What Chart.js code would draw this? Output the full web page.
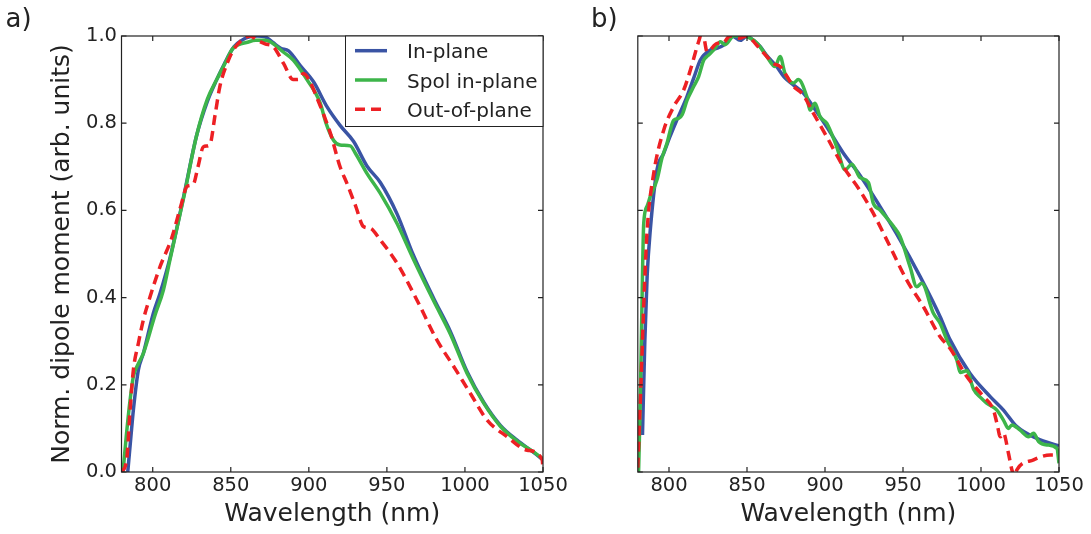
<!DOCTYPE html>
<html>
<head>
<meta charset="utf-8">
<script src="https://cdn.jsdelivr.net/npm/chart.js@4"></script>
<style>
  body { margin: 0; background: #fff; }
  #wrap { position: relative; width: 1091px; height: 534px; overflow: hidden; }
  canvas { position: absolute; top: 0; }
</style>
</head>
<body>
<div id="wrap">
  <canvas id="chartA" width="600" height="534" style="left:0"></canvas>
  <canvas id="chartB" width="531" height="534" style="left:560px"></canvas>
</div>
<script>
const FONT = "'DejaVu Sans', sans-serif";
const INK = '#222222';

const xTicks = [800, 850, 900, 950, 1000, 1050];
const yTicks = [0, 0.2, 0.4, 0.6, 0.8, 1.0];
const seriesNames = ['In-plane', 'Spol in-plane', 'Out-of-plane'];
const seriesColors = ['#3a54a4', '#3db54a', '#ed2024'];

// panel a)
const aInPlaneNm = [784, 786, 787.6, 790.8, 794, 800.4, 804.7, 811, 820, 828, 835, 841, 846, 852, 857, 862, 867, 872, 877, 882, 887, 894.5, 903, 911.6, 920, 928.7, 937.2, 945.8, 956.5, 967, 980, 990.7, 1001.4, 1012, 1022.7, 1033.4, 1044, 1050];
const aInPlane = [0, 0.08, 0.142, 0.234, 0.272, 0.364, 0.41, 0.49, 0.635, 0.77, 0.85, 0.9, 0.937, 0.975, 0.99, 0.998, 1.0, 0.998, 0.985, 0.972, 0.966, 0.932, 0.895, 0.838, 0.795, 0.758, 0.702, 0.664, 0.592, 0.497, 0.398, 0.322, 0.23, 0.16, 0.107, 0.073, 0.045, 0.028];

const aSpolNm = [781, 783, 785.5, 787.6, 791, 794, 801.5, 806.8, 811, 820, 828, 835, 841, 846, 851, 855, 860, 866, 872, 877, 883, 890, 898.8, 907.3, 911, 915.8, 920, 926.5, 930, 937.2, 945.8, 956.5, 967, 980, 990.7, 1001.4, 1012, 1022.7, 1033.4, 1044, 1050];
const aSpol = [0, 0.08, 0.165, 0.219, 0.25, 0.272, 0.36, 0.417, 0.486, 0.632, 0.77, 0.855, 0.9, 0.935, 0.97, 0.98, 0.985, 0.99, 0.99, 0.983, 0.965, 0.945, 0.9, 0.846, 0.8, 0.761, 0.75, 0.748, 0.73, 0.685, 0.639, 0.57, 0.488, 0.392, 0.316, 0.226, 0.158, 0.105, 0.071, 0.046, 0.03];

const aOutNm = [780, 783.3, 785.5, 787.6, 790.8, 794, 798.3, 804.7, 812, 818, 822, 826, 829, 832.5, 836.5, 840, 843, 848, 851.7, 857, 862.4, 867, 872, 877.4, 883.8, 890, 893, 896.6, 900, 905, 910, 914, 920, 924.4, 930, 935, 939.4, 945.8, 956.5, 969.3, 982, 992.8, 1003.5, 1014.2, 1027, 1039.9, 1049.5, 1050];
const aOut = [0, 0.028, 0.142, 0.234, 0.295, 0.349, 0.402, 0.471, 0.535, 0.61, 0.655, 0.66, 0.7, 0.746, 0.75, 0.82, 0.884, 0.94, 0.968, 0.99, 1.0, 0.99, 0.982, 0.975, 0.937, 0.9, 0.9, 0.914, 0.9, 0.86, 0.815, 0.775, 0.7, 0.662, 0.61, 0.563, 0.559, 0.532, 0.479, 0.394, 0.303, 0.242, 0.18, 0.119, 0.081, 0.05, 0.028, 0.005];

// panel b)
const bInPlaneNm = [783, 784.5, 786, 788, 792.3, 796.6, 800.6, 805, 811.4, 816, 820.1, 826.5, 831, 835, 840.4, 845.7, 850, 854, 858.4, 862.7, 869, 874, 879.7, 886.1, 893, 901.1, 911.8, 922.5, 935.4, 948.2, 961, 973.8, 980.2, 993, 1005.9, 1014.4, 1023, 1035.8, 1050];
const bInPlane = [0.085, 0.3, 0.45, 0.555, 0.693, 0.731, 0.769, 0.807, 0.86, 0.905, 0.945, 0.968, 0.972, 0.979, 1.0, 0.99, 1.0, 0.99, 0.976, 0.955, 0.93, 0.905, 0.888, 0.869, 0.835, 0.792, 0.731, 0.68, 0.608, 0.532, 0.448, 0.356, 0.303, 0.226, 0.173, 0.142, 0.104, 0.077, 0.06];

const bSpolNm = [780.5, 781.5, 782.5, 783.8, 786, 788, 792.3, 795.5, 798.7, 803, 806.2, 808.5, 811.6, 815.8, 819, 822.3, 825, 828.7, 833, 836, 841.5, 847.5, 852, 856, 858.4, 862.7, 868, 871.2, 874.4, 879.7, 882.9, 888.3, 890.4, 893.6, 896.8, 901.1, 907.5, 912.9, 917.2, 922.5, 927.8, 931, 935.3, 940.7, 944, 948.1, 954.5, 958.8, 962, 969.5, 973.8, 978.1, 984.5, 986.7, 990.9, 995.2, 1000, 1003.6, 1010.2, 1014.4, 1017.6, 1019.8, 1025.1, 1030.5, 1033.7, 1036.9, 1042.3, 1048.7, 1050];
const bSpol = [0.0, 0.15, 0.35, 0.57, 0.61, 0.632, 0.67, 0.72, 0.754, 0.807, 0.811, 0.82, 0.853, 0.884, 0.907, 0.945, 0.955, 0.968, 0.987, 0.98, 1.0, 1.0, 0.995, 0.985, 0.975, 0.953, 0.93, 0.953, 0.914, 0.892, 0.9, 0.861, 0.83, 0.846, 0.815, 0.8, 0.746, 0.693, 0.706, 0.675, 0.664, 0.616, 0.601, 0.578, 0.563, 0.54, 0.471, 0.425, 0.433, 0.364, 0.341, 0.303, 0.257, 0.228, 0.232, 0.19, 0.17, 0.158, 0.142, 0.119, 0.1, 0.108, 0.096, 0.081, 0.089, 0.07, 0.062, 0.054, 0.02];

const bOutNm = [780, 782, 784, 786, 790.2, 796.6, 803, 809.4, 813.7, 818, 820, 821, 822.3, 824.4, 830.8, 835, 839, 845, 850, 856, 862.7, 866.9, 871.2, 879.7, 886, 892.5, 901.1, 911.8, 922.5, 931, 941.7, 952.4, 963.1, 973.8, 980.2, 990.9, 1001.6, 1008, 1010.2, 1012.4, 1014.4, 1017.6, 1019.8, 1021.5, 1023, 1033.7, 1044.4, 1050];
const bOut = [0.01, 0.2, 0.4, 0.555, 0.685, 0.784, 0.838, 0.876, 0.922, 0.976, 1.0, 1.02, 1.0, 0.964, 0.983, 0.985, 1.0, 0.995, 1.0, 0.98, 0.953, 0.937, 0.93, 0.885, 0.865, 0.823, 0.769, 0.7, 0.645, 0.593, 0.517, 0.44, 0.379, 0.31, 0.283, 0.219, 0.173, 0.142, 0.112, 0.081, 0.089, 0.043, 0.005, -0.01, 0.005, 0.028, 0.039, 0.039];

function points(xs, ys) {
  return xs.map((x, i) => ({ x: x, y: ys[i] }));
}

function makeDatasets(sets) {
  return sets.map((s, i) => ({
    label: seriesNames[i],
    data: points(s[0], s[1]),
    borderColor: seriesColors[i],
    backgroundColor: seriesColors[i],
    borderWidth: 3.5,
    borderDash: i === 2 ? [10, 6] : [],
    pointRadius: 0,
    cubicInterpolationMode: 'monotone',
    clip: 0,
    fill: false,
    order: 2 - i  // dashed red on top, blue underneath
  }));
}

// frame, inward ticks, panel letter and (optionally) the legend box
const framePlugin = {
  id: 'frame',
  afterDatasetsDraw(chart, args, opts) {
    const { ctx, chartArea: a } = chart;
    const x = chart.scales.x, y = chart.scales.y;
    ctx.save();
    ctx.strokeStyle = INK;
    ctx.lineWidth = 1.2;
    ctx.strokeRect(a.left, a.top, a.width, a.height);
    ctx.beginPath();
    xTicks.forEach(v => {
      const px = x.getPixelForValue(v);
      ctx.moveTo(px, a.bottom); ctx.lineTo(px, a.bottom - 5);
      ctx.moveTo(px, a.top); ctx.lineTo(px, a.top + 5);
    });
    yTicks.forEach(v => {
      const py = y.getPixelForValue(v);
      ctx.moveTo(a.left, py); ctx.lineTo(a.left + 5, py);
      ctx.moveTo(a.right, py); ctx.lineTo(a.right - 5, py);
    });
    ctx.stroke();

    ctx.fillStyle = INK;
    ctx.font = '26px ' + FONT;
    ctx.textBaseline = 'alphabetic';
    ctx.textAlign = 'left';
    ctx.fillText(opts.letter, opts.letterX, 27);

    if (opts.legend) {
      const L = 345.5, T = a.top, R = a.right, B = 126.5;
      ctx.fillStyle = '#ffffff';
      ctx.fillRect(L, T, R - L, B - T);
      ctx.lineWidth = 1;
      ctx.strokeRect(L, T, R - L, B - T);
      chart.data.datasets.forEach((ds, i) => {
        const cy = 50.7 + i * 29.3;
        ctx.beginPath();
        ctx.strokeStyle = ds.borderColor;
        ctx.lineWidth = ds.borderWidth;
        ctx.setLineDash(ds.borderDash);
        ctx.moveTo(355, cy);
        ctx.lineTo(387, cy);
        ctx.stroke();
        ctx.setLineDash([]);
        ctx.fillStyle = INK;
        ctx.font = '20px ' + FONT;
        ctx.fillText(ds.label, 407, cy + 7.5);
      });
    }
    ctx.restore();
  }
};

function makeScales(yWidth, showY) {
  return {
    x: {
      type: 'linear',
      min: 780,
      max: 1050,
      afterBuildTicks: s => { s.ticks = xTicks.map(v => ({ value: v })); },
      afterFit: s => { s.height = 62; },
      grid: { display: false, drawTicks: false },
      border: { display: false },
      ticks: {
        color: INK,
        font: { family: FONT, size: 19.5 },
        padding: 2,
        maxRotation: 0,
        autoSkip: false,
        callback: v => String(v)
      },
      title: {
        display: true,
        text: 'Wavelength (nm)',
        color: INK,
        font: { family: FONT, size: 25 },
        padding: { top: 0, bottom: 5 }
      }
    },
    y: {
      type: 'linear',
      min: 0,
      max: 1,
      afterBuildTicks: s => { s.ticks = yTicks.map(v => ({ value: v })); },
      afterFit: s => { s.width = yWidth; },
      grid: { display: false, drawTicks: false },
      border: { display: false },
      ticks: {
        display: showY,
        color: INK,
        font: { family: FONT, size: 19.5 },
        padding: 4.5,
        callback: v => v.toFixed(1)
      },
      title: {
        display: showY,
        text: 'Norm. dipole moment (arb. units)',
        color: INK,
        font: { family: FONT, size: 25 },
        padding: { top: 47, bottom: 0 }
      }
    }
  };
}

function makeChart(id, sets, yWidth, rightPad, showY, letter, letterX, legend) {
  return new Chart(document.getElementById(id).getContext('2d'), {
    type: 'line',
    data: { datasets: makeDatasets(sets) },
    options: {
      responsive: false,
      animation: false,
      devicePixelRatio: 1,
      layout: { padding: { top: 36, right: rightPad, bottom: 0, left: 0 } },
      scales: makeScales(yWidth, showY),
      plugins: {
        legend: { display: false },
        tooltip: { enabled: false },
        frame: { letter: letter, letterX: letterX, legend: legend }
      }
    },
    plugins: [framePlugin]
  });
}

makeChart('chartA', [[aInPlaneNm, aInPlane], [aSpolNm, aSpol], [aOutNm, aOut]], 121.5, 57, true, 'a)', 5.5, true);
makeChart('chartB', [[bInPlaneNm, bInPlane], [bSpolNm, bSpol], [bOutNm, bOut]], 77.8, 32, false, 'b)', 31, false);
</script>
</body>
</html>
